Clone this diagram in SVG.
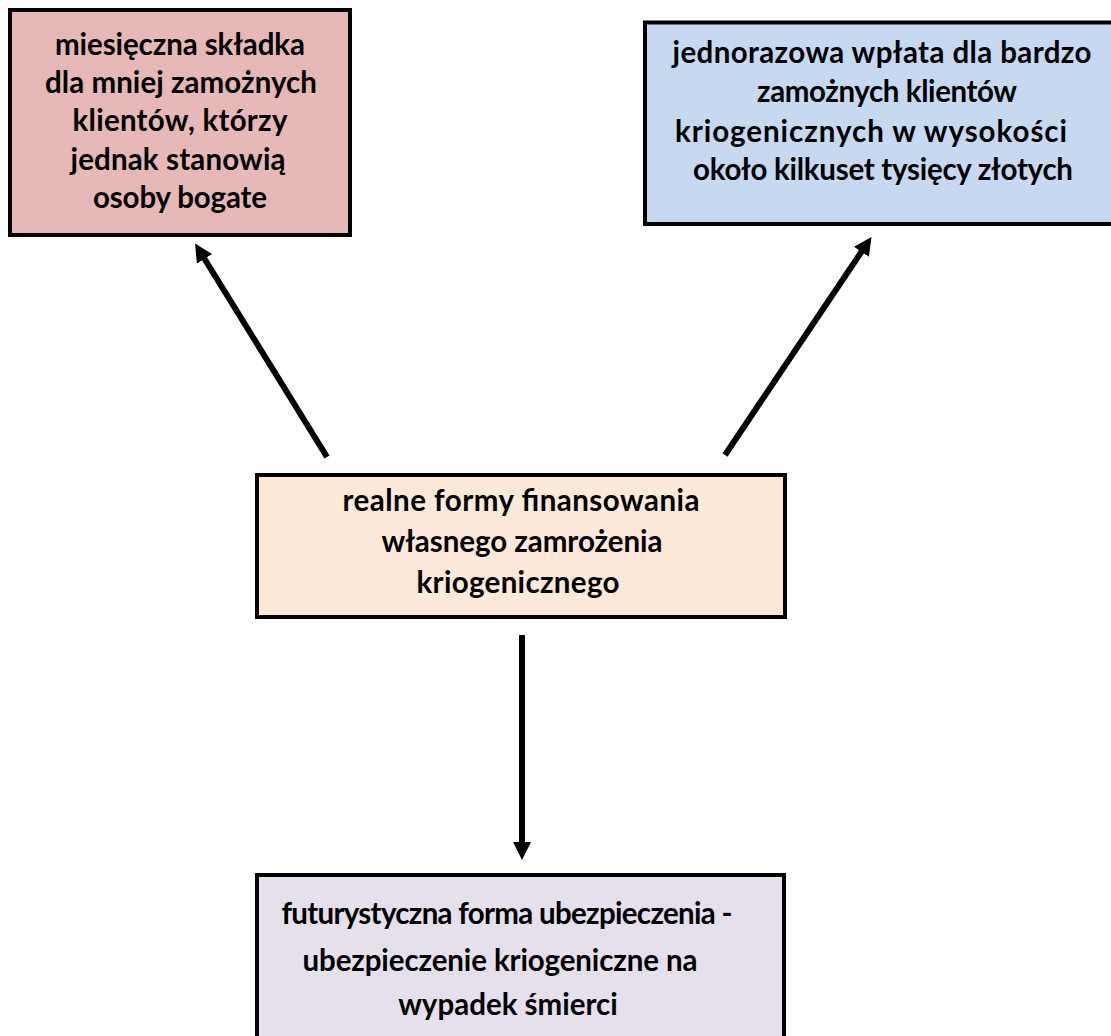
<svg xmlns="http://www.w3.org/2000/svg" width="1111" height="1036" viewBox="0 0 1111 1036">
<style>
.box{stroke:#000;stroke-width:4}
.t{font-family:Lato,"Open Sans","DejaVu Sans",sans-serif;font-weight:bold;font-size:29.5px;fill:#000;text-anchor:middle}
.c{stroke:#000;stroke-width:6;fill:none}
</style>
<defs>
<marker id="ah" markerUnits="userSpaceOnUse" markerWidth="18" markerHeight="18" viewBox="0 0 18 18" refX="1" refY="9" orient="auto">
<path d="M0,0 L18,9 L0,18 z" fill="#000"/>
</marker>
</defs>
<rect width="1111" height="1036" fill="#fff"/>
<g id="node-monthly">
<rect class="box" x="10" y="10" width="340" height="225" fill="#E6B8B7"/>
<text class="t" x="180" y="55" textLength="250">miesięczna składka</text>
<text class="t" x="181" y="93" textLength="272">dla mniej zamożnych</text>
<text class="t" x="180" y="131" textLength="215">klientów, którzy</text>
<text class="t" x="178" y="170" textLength="215">jednak stanowią</text>
<text class="t" x="180" y="208" textLength="174">osoby bogate</text>
</g>
<g id="node-single">
<rect class="box" x="645" y="22.5" width="475" height="201.5" fill="#C6D9F1"/>
<text class="t" x="882" y="63" textLength="419">jednorazowa wpłata dla bardzo</text>
<text class="t" x="887" y="102" textLength="260">zamożnych klientów</text>
<text class="t" x="871" y="142" textLength="392">kriogenicznych w wysokości</text>
<text class="t" x="883" y="180" textLength="380">około kilkuset tysięcy złotych</text>
</g>
<g id="node-center">
<rect class="box" x="257" y="475" width="528" height="142" fill="#FDE9D9"/>
<text class="t" x="521" y="511" textLength="357">realne formy finansowania</text>
<text class="t" x="522" y="552" textLength="281">własnego zamrożenia</text>
<text class="t" x="518" y="593" textLength="203">kriogenicznego</text>
</g>
<g id="node-insurance">
<rect class="box" x="257" y="875" width="527" height="170" fill="#E5E0EC"/>
<text class="t" x="507" y="924" textLength="451">futurystyczna forma ubezpieczenia -</text>
<text class="t" x="500" y="971" textLength="395">ubezpieczenie kriogeniczne na</text>
<text class="t" x="508" y="1015">wypadek śmierci</text>
</g>
<g id="connectors">
<line class="c" x1="327" y1="457" x2="204" y2="258" marker-end="url(#ah)"/>
<line class="c" x1="725" y1="455" x2="862" y2="251" marker-end="url(#ah)"/>
<line class="c" x1="522" y1="635" x2="522" y2="843" marker-end="url(#ah)"/>
</g>
</svg>
